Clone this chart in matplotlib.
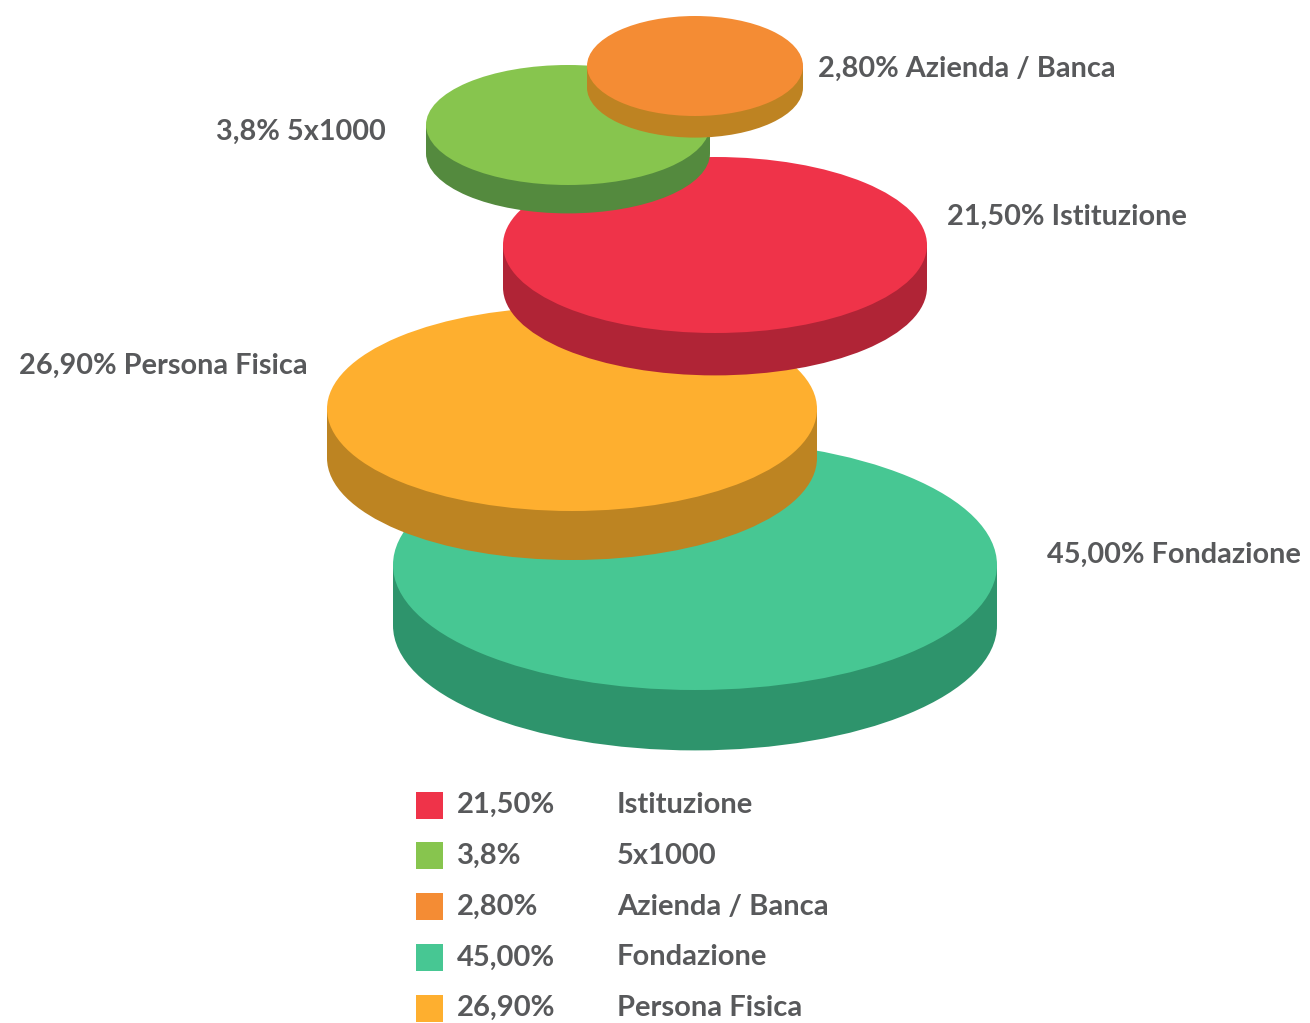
import matplotlib
matplotlib.use('Agg')
import matplotlib.pyplot as plt
from matplotlib.patches import Ellipse, Rectangle

# data
categories = ['Istituzione', '5x1000', 'Azienda / Banca', 'Fondazione', 'Persona Fisica']
percent_labels = ['21,50%', '3,8%', '2,80%', '45,00%', '26,90%']
values = [21.5, 3.8, 2.8, 45.0, 26.9]

top_colors = ['#EF3349', '#87C54E', '#F48C34', '#47C793', '#FEAF2F']
side_colors = ['#B02436', '#548A3E', '#BE8322', '#2E946C', '#BD8422']
text_color = '#58595B'

# disc layout in pixels: centre x, centre y of top face, half width, half height
disc_layout = {
    'Fondazione': (695, 565, 302, 125),
    'Persona Fisica': (572, 409, 245, 102),
    'Istituzione': (715, 245, 212, 88),
    '5x1000': (568, 125, 142, 60),
    'Azienda / Banca': (695, 66, 108, 50),
}
# label position and alignment
label_layout = {
    'Azienda / Banca': (818, 69, 'left'),
    '5x1000': (386, 132, 'right'),
    'Istituzione': (947, 217, 'left'),
    'Persona Fisica': (308, 366, 'right'),
    'Fondazione': (1047, 555, 'left'),
}
draw_order = ['Fondazione', 'Persona Fisica', 'Istituzione', '5x1000', 'Azienda / Banca']

W, H = 1310, 1023
fig = plt.figure(figsize=(W / 100, H / 100), dpi=100)
ax = fig.add_axes([0, 0, 1, 1])
ax.set_xlim(0, W)
ax.set_ylim(H, 0)
ax.axis('off')

font = dict(family='Lato', weight='bold', color=text_color)


def draw_disc(ax, cx, cy, rx, ry, top, side):
    depth = 0.2 * rx
    ax.add_patch(Ellipse((cx, cy + depth), 2 * rx, 2 * ry, color=side, lw=0))
    ax.add_patch(Rectangle((cx - rx, cy), 2 * rx, depth, color=side, lw=0))
    ax.add_patch(Ellipse((cx, cy), 2 * rx, 2 * ry, color=top, lw=0))


for name in draw_order:
    i = categories.index(name)
    cx, cy, rx, ry = disc_layout[name]
    draw_disc(ax, cx, cy, rx, ry, top_colors[i], side_colors[i])
    lx, ly, ha = label_layout[name]
    ax.text(lx, ly, '{} {}'.format(percent_labels[i], name), ha=ha, va='center',
            fontsize=20.8, **font)

# legend
for i, name in enumerate(categories):
    y = 805 + i * 50.8
    ax.add_patch(Rectangle((416, y - 13.5), 27, 27, color=top_colors[i], lw=0))
    ax.text(457, y, percent_labels[i], ha='left', va='center', fontsize=21, **font)
    ax.text(617, y, name, ha='left', va='center', fontsize=21, **font)

fig.savefig('out.png', dpi=100, facecolor='white')
